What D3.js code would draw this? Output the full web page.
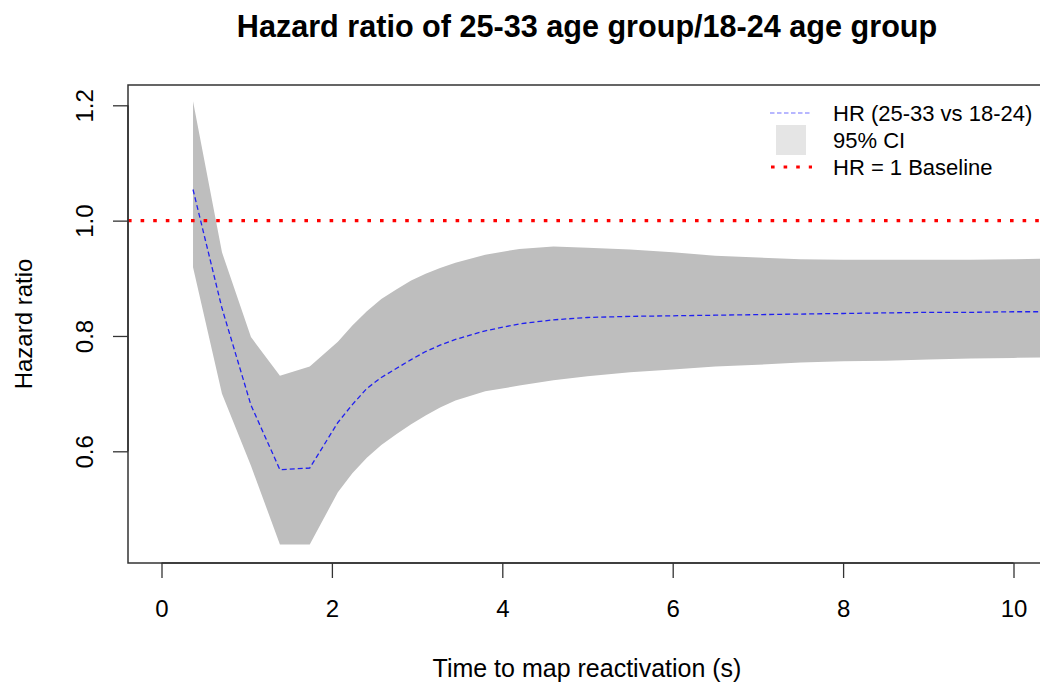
<!DOCTYPE html>
<html>
<head>
<meta charset="utf-8">
<script src="https://cdn.jsdelivr.net/npm/d3@7"></script>
<style>
  html, body { margin: 0; padding: 0; background: #fff; }
  svg { display: block; font-family: "Liberation Sans", Arial, sans-serif; }
</style>
</head>
<body>
<svg id="chart" width="1040" height="687"></svg>
<script>
// Time since map reactivation (s)
const times = [0.37, 0.71, 1.05, 1.39, 1.74, 2.07, 2.24, 2.41, 2.58, 2.76, 2.93, 3.1, 3.27, 3.45, 3.8, 4.2, 4.6,
               5.0, 5.5, 6.0, 6.5, 7.0, 7.5, 8.0, 8.5, 9.0, 9.5, 10.0, 10.4];
// Hazard ratio estimate (25-33 vs 18-24)
const hr = [1.054, 0.848, 0.680, 0.568, 0.571, 0.650, 0.681, 0.709, 0.728, 0.744, 0.759, 0.773, 0.784, 0.794, 0.809, 0.821, 0.828,
            0.832, 0.834, 0.835, 0.836, 0.837, 0.838, 0.839, 0.840, 0.841, 0.841, 0.842, 0.842];
// 95% confidence interval bounds
const ciLower = [0.919, 0.700, 0.575, 0.4385, 0.4385, 0.529, 0.562, 0.589, 0.611, 0.630, 0.647, 0.662, 0.676, 0.688, 0.704, 0.714, 0.723,
                 0.730, 0.737, 0.742, 0.747, 0.750, 0.754, 0.756, 0.757, 0.759, 0.761, 0.762, 0.763];
const ciUpper = [1.207, 0.945, 0.798, 0.731, 0.747, 0.790, 0.818, 0.843, 0.864, 0.881, 0.896, 0.908, 0.918, 0.927, 0.941, 0.951, 0.955,
                 0.953, 0.950, 0.945, 0.939, 0.936, 0.933, 0.932, 0.932, 0.932, 0.932, 0.933, 0.934];
const xTicks = [0, 2, 4, 6, 8, 10];
const yTicks = [0.6, 0.8, 1.0, 1.2];
const baseline = 1;

const svg = d3.select("#chart");

// plot region
const box = { left: 128, top: 85, right: 1046, bottom: 563 };

const x = d3.scaleLinear().domain([0, 10]).range([161.5, 1013.5]);
const y = d3.scaleLinear().domain([0.6, 1.2]).range([451.3, 105.3]);

const rows = times.map((t, i) => ({ t, hr: hr[i], lo: ciLower[i], hi: ciUpper[i] }));

svg.append("defs").append("clipPath").attr("id", "plotClip")
  .append("rect")
  .attr("x", box.left).attr("y", box.top)
  .attr("width", box.right - box.left).attr("height", box.bottom - box.top);

const plot = svg.append("g").attr("clip-path", "url(#plotClip)");

// confidence band
plot.append("path")
  .datum(rows)
  .attr("fill", "#bebebe")
  .attr("d", d3.area().x(d => x(d.t)).y0(d => y(d.lo)).y1(d => y(d.hi)));

// HR = 1 reference line
plot.append("line")
  .attr("x1", box.left).attr("x2", box.right)
  .attr("y1", y(baseline)).attr("y2", y(baseline))
  .attr("stroke", "#ff0000").attr("stroke-width", 3.2)
  .attr("stroke-dasharray", "3.6,9");

// hazard ratio curve
plot.append("path")
  .datum(rows)
  .attr("fill", "none")
  .attr("stroke", "#2020f0")
  .attr("stroke-width", 1.3)
  .attr("stroke-dasharray", "5,3")
  .attr("d", d3.line().x(d => x(d.t)).y(d => y(d.hr)));

// frame
svg.append("rect")
  .attr("x", box.left).attr("y", box.top)
  .attr("width", box.right - box.left).attr("height", box.bottom - box.top)
  .attr("fill", "none").attr("stroke", "#333").attr("stroke-width", 1.5);

// x axis
const xAxis = svg.append("g").attr("transform", `translate(0,${box.bottom})`)
  .call(d3.axisBottom(x).tickValues(xTicks).tickSize(15).tickPadding(22).tickFormat(d3.format("d")));
xAxis.select(".domain").attr("stroke", "#333").attr("stroke-width", 1.5)
  .attr("d", `M${x(0)},0H${x(10)}`);
xAxis.selectAll(".tick line").attr("stroke", "#333").attr("stroke-width", 1.3);
xAxis.selectAll(".tick text").attr("font-size", 24).attr("fill", "#000")
  .attr("font-family", "Liberation Sans, Arial, sans-serif");

// y axis with vertical labels
const yAxis = svg.append("g").attr("transform", `translate(${box.left},0)`)
  .call(d3.axisLeft(y).tickValues(yTicks).tickSize(15).tickFormat(d3.format(".1f")));
yAxis.select(".domain").attr("stroke", "#333").attr("stroke-width", 1.5)
  .attr("d", `M0,${y(1.2)}V${y(0.6)}`);
yAxis.selectAll(".tick line").attr("stroke", "#333").attr("stroke-width", 1.3);
yAxis.selectAll(".tick text")
  .attr("font-size", 24).attr("fill", "#000")
  .attr("font-family", "Liberation Sans, Arial, sans-serif")
  .attr("x", null).attr("dy", null)
  .attr("text-anchor", "middle")
  .attr("transform", "translate(-35,0) rotate(-90)");

// titles
svg.append("text")
  .attr("x", (box.left + box.right) / 2).attr("y", 37)
  .attr("text-anchor", "middle").attr("font-size", 30.6).attr("font-weight", "bold")
  .text("Hazard ratio of 25-33 age group/18-24 age group");

svg.append("text")
  .attr("x", (box.left + box.right) / 2).attr("y", 677)
  .attr("text-anchor", "middle").attr("font-size", 25)
  .text("Time to map reactivation (s)");

svg.append("text")
  .attr("transform", `translate(32,${(box.top + box.bottom) / 2}) rotate(-90)`)
  .attr("text-anchor", "middle").attr("font-size", 24)
  .text("Hazard ratio");

// legend
const legendItems = [
  { label: "HR (25-33 vs 18-24)", kind: "line" },
  { label: "95% CI", kind: "fill" },
  { label: "HR = 1 Baseline", kind: "dots" }
];
const legend = svg.append("g").attr("transform", "translate(770,113)");
legendItems.forEach((item, i) => {
  const g = legend.append("g").attr("transform", `translate(0,${i * 27})`);
  if (item.kind === "line") {
    g.append("line").attr("x1", 0).attr("x2", 42).attr("y1", 0).attr("y2", 0)
      .attr("stroke", "#7070ff").attr("stroke-width", 1.2).attr("stroke-dasharray", "4.5,2.5");
  } else if (item.kind === "fill") {
    g.append("rect").attr("x", 6).attr("y", -15).attr("width", 30).attr("height", 30)
      .attr("fill", "#e5e5e5");
  } else {
    g.append("line").attr("x1", 1).attr("x2", 42).attr("y1", 0).attr("y2", 0)
      .attr("stroke", "#ff0000").attr("stroke-width", 3.2).attr("stroke-dasharray", "3.6,9");
  }
  g.append("text").attr("x", 63).attr("y", 8).attr("font-size", 22).attr("fill", "#000")
    .text(item.label);
});
</script>
</body>
</html>
